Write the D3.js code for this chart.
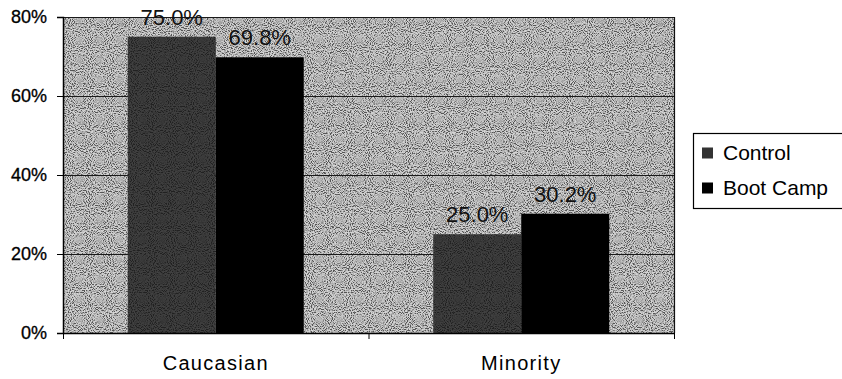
<!DOCTYPE html>
<html>
<head>
<meta charset="utf-8">
<script src="https://cdn.jsdelivr.net/npm/d3@7"></script>
<style>
  html, body { margin: 0; padding: 0; background: #fff; }
  svg { display: block; font-family: Arial, "Liberation Sans", sans-serif; }
</style>
</head>
<body>
<svg id="chart" width="842" height="379"></svg>
<script>
// Share of participants by ethnicity, per program group
const categories = ["Caucasian", "Minority"];
const seriesNames = ["Control", "Boot Camp"];
const controlValues = [75.0, 25.0];
const bootCampValues = [69.8, 30.2];
const yTicks = [0, 20, 40, 60, 80];

const seriesColors = { "Control": "#262626", "Boot Camp": "#000000" };

const svg = d3.select("#chart");
const plot = { left: 63, right: 674, top: 17, bottom: 333 };

// Speckled texture used for the plot wall and the Control bars
const defs = svg.append("defs");
const grain = defs.append("filter").attr("id", "grain")
  .attr("x", 0).attr("y", 0).attr("width", 1).attr("height", 1);
grain.append("feTurbulence").attr("type", "fractalNoise")
  .attr("baseFrequency", 0.95).attr("numOctaves", 1).attr("seed", 7).attr("result", "noise");
grain.append("feColorMatrix").attr("in", "noise").attr("type", "matrix")
  .attr("values", "4 0 0 0 -1.5  4 0 0 0 -1.5  4 0 0 0 -1.5  0 0 0 0 1").attr("result", "gray");
grain.append("feComposite").attr("in", "gray").attr("in2", "SourceAlpha").attr("operator", "in");

const y = d3.scaleLinear().domain([0, 80]).range([plot.bottom, plot.top]);
const x0 = d3.scaleBand().domain(categories).range([plot.left, plot.right])
  .paddingInner(0).paddingOuter(0);
const x1 = d3.scaleBand().domain(seriesNames).range([0, x0.bandwidth()])
  .paddingInner(0).paddingOuter(0.736);

// Plot wall
svg.append("rect")
  .attr("x", plot.left).attr("y", plot.top)
  .attr("width", plot.right - plot.left).attr("height", plot.bottom - plot.top)
  .attr("fill", "#acacac");
svg.append("rect")
  .attr("x", plot.left).attr("y", plot.top)
  .attr("width", plot.right - plot.left).attr("height", plot.bottom - plot.top)
  .attr("fill", "#000").attr("filter", "url(#grain)").attr("opacity", 0.5);

// Horizontal gridlines
svg.append("g").selectAll("line")
  .data(yTicks.filter(d => d > 0))
  .join("line")
  .attr("x1", plot.left).attr("x2", plot.right)
  .attr("y1", d => Math.round(y(d)) + 0.5).attr("y2", d => Math.round(y(d)) + 0.5)
  .attr("stroke", "#1a1a1a").attr("stroke-width", 1);

// Right border of the wall
svg.append("line")
  .attr("x1", plot.right + 0.5).attr("x2", plot.right + 0.5)
  .attr("y1", plot.top).attr("y2", plot.bottom)
  .attr("stroke", "#111").attr("stroke-width", 1.2);

// Bars
const rows = categories.map((c, i) => ({
  category: c,
  values: [
    { series: "Control", value: controlValues[i] },
    { series: "Boot Camp", value: bootCampValues[i] }
  ]
}));

const groups = svg.append("g").selectAll("g")
  .data(rows)
  .join("g")
  .attr("transform", d => `translate(${x0(d.category)},0)`);

groups.selectAll("rect.bar")
  .data(d => d.values)
  .join("rect")
  .attr("class", "bar")
  .attr("x", d => x1(d.series))
  .attr("y", d => y(d.value))
  .attr("width", x1.bandwidth())
  .attr("height", d => y(0) - y(d.value))
  .attr("fill", d => seriesColors[d.series]);

groups.selectAll("rect.speck")
  .data(d => d.values.filter(v => v.series === "Control"))
  .join("rect")
  .attr("class", "speck")
  .attr("x", d => x1(d.series))
  .attr("y", d => y(d.value))
  .attr("width", x1.bandwidth())
  .attr("height", d => y(0) - y(d.value))
  .attr("fill", "#000").attr("filter", "url(#grain)").attr("opacity", 0.12);

// Value labels above bars
groups.selectAll("text.value")
  .data(d => d.values)
  .join("text")
  .attr("class", "value")
  .attr("x", d => x1(d.series) + x1.bandwidth() / 2)
  .attr("y", d => y(d.value) - 12)
  .attr("text-anchor", "middle")
  .attr("font-size", 22)
  .attr("fill", "#111")
  .text(d => d.value.toFixed(1) + "%");

// Y axis
const yAxis = svg.append("g")
  .attr("transform", `translate(${plot.left},0)`)
  .call(d3.axisLeft(y).tickValues(yTicks).tickSize(6).tickPadding(10)
    .tickFormat(d => d + "%"));
yAxis.select(".domain").attr("stroke", "#000").attr("stroke-width", 1.5);
yAxis.selectAll(".tick line").attr("stroke", "#000");
yAxis.selectAll(".tick text")
  .attr("font-size", 18).attr("font-family", "Arial, 'Liberation Sans', sans-serif")
  .attr("fill", "#000").attr("stroke", "#000").attr("stroke-width", 0.3);

// X axis: baseline, category separators and category names
const xAxis = svg.append("g")
  .attr("transform", `translate(0,${plot.bottom})`)
  .call(d3.axisBottom(x0).tickSize(0).tickPadding(23));
xAxis.select(".domain").attr("stroke", "#000").attr("stroke-width", 1.5);
xAxis.selectAll(".tick text")
  .attr("font-size", 20).attr("font-family", "Arial, 'Liberation Sans', sans-serif")
  .attr("letter-spacing", "1.3px").attr("fill", "#000");

const boundaries = categories.map(c => x0(c)).concat([x0(categories[categories.length - 1]) + x0.bandwidth()]);
xAxis.selectAll("line.sep")
  .data(boundaries)
  .join("line")
  .attr("class", "sep")
  .attr("x1", d => d + 0.5).attr("x2", d => d + 0.5)
  .attr("y1", 0).attr("y2", 6)
  .attr("stroke", "#000");

// Legend
const legend = svg.append("g").attr("transform", "translate(693,133)");
legend.append("rect")
  .attr("x", 0.5).attr("y", 0.5).attr("width", 160).attr("height", 75)
  .attr("fill", "#fff").attr("stroke", "#000").attr("stroke-width", 1.2);
const items = legend.selectAll("g.item")
  .data(seriesNames)
  .join("g")
  .attr("class", "item")
  .attr("transform", (d, i) => `translate(9,${20 + i * 35})`);
items.append("rect")
  .attr("x", 0).attr("y", -5.5).attr("width", 11).attr("height", 11)
  .attr("fill", d => d === "Control" ? "#333" : seriesColors[d]);
items.append("text")
  .attr("x", 21).attr("y", 0).attr("dy", "0.35em")
  .attr("font-size", 21).attr("fill", "#000")
  .text(d => d);
</script>
</body>
</html>
